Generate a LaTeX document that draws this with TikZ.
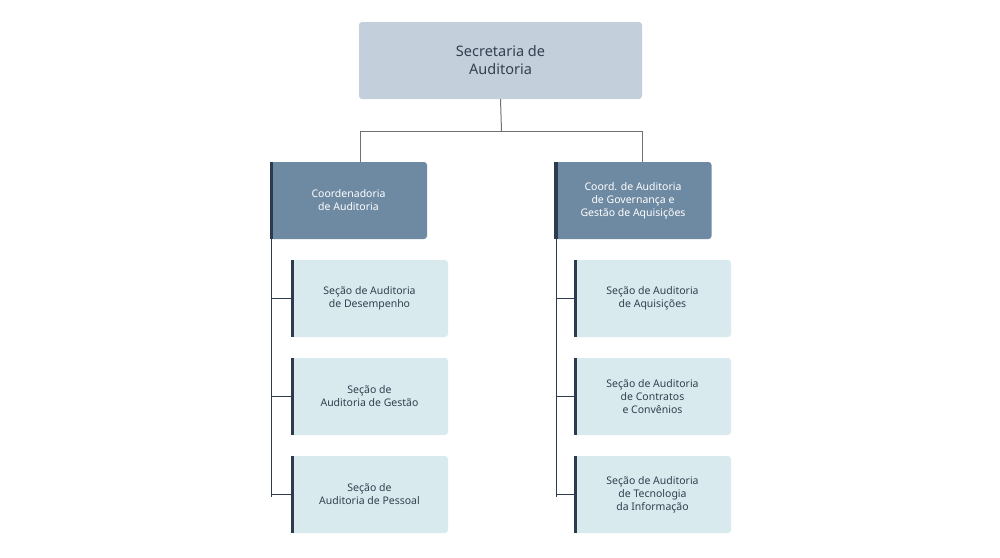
\documentclass[tikz,border=0pt]{standalone}
\usepackage{fontspec}
\setmainfont{Noto Sans}
\begin{document}
\begin{tikzpicture}[x=1pt,y=-1pt,
  topbox/.style={fill=topc,rounded corners=3pt,minimum width=283pt,minimum height=77pt,align=center,font=\fontsize{14.5}{18}\selectfont\bfseries,text=txt,inner sep=0pt},
  coord/.style={fill=coordc,rounded corners=3pt,minimum width=157pt,minimum height=77pt,align=center,font=\fontsize{10.5}{13}\selectfont\bfseries,text=white,inner sep=0pt},
  sec/.style={fill=secc,rounded corners=3pt,minimum width=157pt,minimum height=77pt,align=center,font=\fontsize{10.5}{13}\selectfont,text=txt,inner sep=0pt},
  bar/.style={fill=barc},
  conn/.style={draw=linec,line width=1pt},
  conn2/.style={draw=barc,line width=1pt}]
\definecolor{topc}{HTML}{C3CFDA}
\definecolor{coordc}{HTML}{6E89A2}
\definecolor{secc}{HTML}{D8EAEE}
\definecolor{barc}{HTML}{2D3B4E}
\definecolor{txt}{HTML}{33404F}
\definecolor{linec}{HTML}{707070}
\useasboundingbox (0,0) rectangle (1000,557);
\node[topbox] (top) at (500.5,60.5) {Secretaria de\\Auditoria};
\node[coord] (c1) at (348.5,200.5) {Coordenadoria\\de Auditoria};
\node[coord] (c2) at (633,200.5) {Coord. de Auditoria\\de Governança e\\Gestão de Aquisições};
\node[sec] (s1) at (369.5,298.5) {Seção de Auditoria\\de Desempenho};
\node[sec] (s2) at (369.5,396.5) {Seção de\\Auditoria de Gestão};
\node[sec] (s3) at (369.5,494.5) {Seção de\\Auditoria de Pessoal};
\node[sec] (r1) at (652.5,298.5) {Seção de Auditoria\\de Aquisições};
\node[sec] (r2) at (652.5,396.5) {Seção de Auditoria\\de Contratos\\e Convênios};
\node[sec] (r3) at (652.5,494.5) {Seção de Auditoria\\de Tecnologia\\da Informação};
\foreach \n in {c1,c2,s1,s2,s3,r1,r2,r3}
  \fill[bar] (\n.north west) rectangle ([xshift=3.5pt]\n.south west);
\coordinate (j) at (501.5,131);
\draw[conn] (top.south) -- (j);
\draw[conn] (360,162) |- (642,131) -- (642,162);
\coordinate (l0) at (271.5,239);
\coordinate (r0) at (556.5,239);
\draw[conn2] (l0) -- (271.5,496.5);
\draw[conn2] (r0) -- (556.5,496.5);
\foreach \n in {s1,s2,s3} \draw[conn2] (271.5,0 |- \n.west) -- (\n.west);
\foreach \n in {r1,r2,r3} \draw[conn2] (556.5,0 |- \n.west) -- (\n.west);
\end{tikzpicture}
\end{document}
